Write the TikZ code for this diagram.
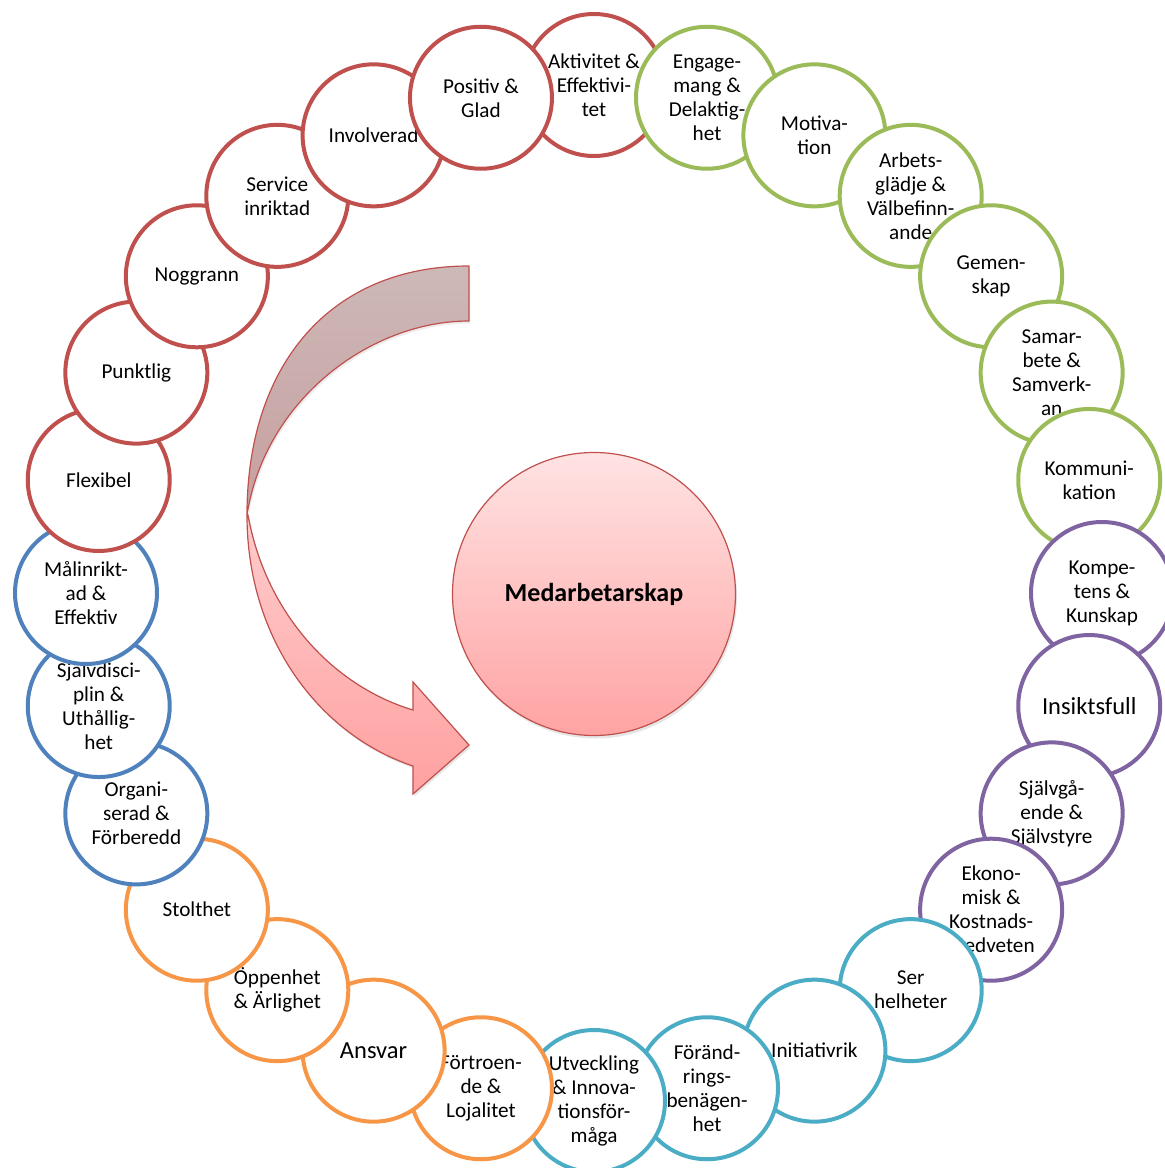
\documentclass[tikz,border=0pt]{standalone}
\usepackage{fontspec}
\setmainfont{Carlito}
\usepackage{tikz}
\usetikzlibrary{shadows}
\definecolor{cred}{HTML}{C0504D}
\definecolor{cgreen}{HTML}{9BBB59}
\definecolor{cpurple}{HTML}{8064A2}
\definecolor{cteal}{HTML}{4BACC6}
\definecolor{corange}{HTML}{F79646}
\definecolor{cblue}{HTML}{4F81BD}
\definecolor{backtop}{HTML}{CDB8B8}
\definecolor{backbot}{HTML}{C89F9F}
\newcommand{\ringfont}{\fontsize{21.2}{24}\selectfont}
\newcommand{\bigringfont}{\fontsize{24.5}{28}\selectfont}

\begin{document}
\begin{tikzpicture}[
    x=1pt,
    y=1pt,
    ring/.style={
        circle,
        draw=#1,
        line width=4pt,
        fill=white,
        minimum size=142pt,
        inner sep=0pt,
        align=center,
        font=\ringfont
    },
    bigring/.style={
        ring=#1,
        font=\bigringfont
    },
    backband/.style={
        draw=cred,
        line width=1.2pt,
        top color=backtop,
        bottom color=backbot,
        drop shadow={opacity=0.15, shadow xshift=1.5pt, shadow yshift=-2.5pt}
    },
    frontband/.style={
        draw=cred,
        line width=1.2pt,
        top color=red!20!white,
        bottom color=red!37!white,
        drop shadow={opacity=0.2, shadow xshift=1.5pt, shadow yshift=-2.5pt}
    }
]

\useasboundingbox (-594,-575) rectangle (571,593);
\clip (-594,-575) rectangle (571,593);

% Curved arrow, back part
\path[backband]
(-125,327)
.. controls (-264,327) and (-347,228) .. (-347,78)
.. controls (-329,193) and (-224,272) .. (-125,272)
-- cycle;

% Curved arrow, front part with head
\path[frontband]
(-346,78)
.. controls (-329,-17) and (-264,-92) .. (-181,-117)
-- (-181,-89)
-- (-125,-152)
-- (-181,-201)
-- (-181,-173)
.. controls (-274,-142) and (-347,-47) .. (-347,78)
-- cycle;

% Central circle
\node[
    circle,
    draw=cred,
    line width=1.2pt,
    minimum size=283pt,
    top color=red!11!white,
    bottom color=red!36!white,
    drop shadow={opacity=0.2, shadow xshift=1.5pt, shadow yshift=-3pt},
    font=\fontsize{26}{30}\selectfont\bfseries
] (med)
at (0,-1)
{Medarbetarskap};

% Ring of circles, clockwise from the top
\node[ring=cred] (akt) at (90:508) {Aktivitet \&\\Effektivi-\\tet};
\node[ring=cgreen] (eng) at (77.143:508) {Engage-\\mang \&\\Delaktig-\\het};
\node[ring=cgreen] (mot) at (64.286:508) {Motiva-\\tion};
\node[ring=cgreen] (arb) at (51.429:508) {Arbets-\\glädje \&\\Välbefinn-\\ande};
\node[ring=cgreen] (gem) at (38.571:508) {Gemen-\\skap};
\node[ring=cgreen] (sam) at (25.714:508) {Samar-\\bete \&\\Samverk-\\an};
\node[ring=cgreen] (kom) at (12.857:508) {Kommuni-\\kation};
\node[ring=cpurple] (kmp) at (0:508) {Kompe-\\tens \&\\Kunskap};
\node[bigring=cpurple] (ins) at (-12.857:508) {Insiktsfull};
\node[ring=cpurple] (sjg) at (-25.714:508) {Självgå-\\ende \&\\Självstyre};
\node[ring=cpurple] (eko) at (-38.571:508) {Ekono-\\misk \&\\Kostnads-\\medveten};
\node[ring=cteal] (ser) at (-51.429:508) {Ser\\helheter};
\node[ring=cteal] (ini) at (-64.286:508) {Initiativrik};
\node[ring=cteal] (frd) at (-77.143:508) {Föränd-\\rings-\\benägen-\\het};
\node[ring=cteal] (utv) at (-90:508) {Utveckling\\\& Innova-\\tionsför-\\måga};
\node[ring=corange] (frt) at (-102.857:508) {Förtroen-\\de \&\\Lojalitet};
\node[bigring=corange] (ans) at (-115.714:508) {Ansvar};
\node[ring=corange] (opp) at (-128.571:508) {Öppenhet\\\& Ärlighet};
\node[ring=corange] (sto) at (-141.429:508) {Stolthet};
\node[ring=cblue] (org) at (-154.286:508) {Organi-\\serad \&\\Förberedd};
\node[ring=cblue] (sjd) at (-167.143:508) {Självdisci-\\plin \&\\Uthållig-\\het};
\node[ring=cblue] (mal) at (-180:508) {Målinrikt-\\ad \&\\Effektiv};
\node[ring=cred] (fle) at (-192.857:508) {Flexibel};
\node[ring=cred] (pun) at (-205.714:508) {Punktlig};
\node[ring=cred] (nog) at (-218.571:508) {Noggrann};
\node[ring=cred] (srv) at (-231.429:508) {Service\\inriktad};
\node[ring=cred] (inv) at (-244.286:508) {Involverad};
\node[ring=cred] (pos) at (-257.143:508) {Positiv \&\\Glad};

\end{tikzpicture}
\end{document}
